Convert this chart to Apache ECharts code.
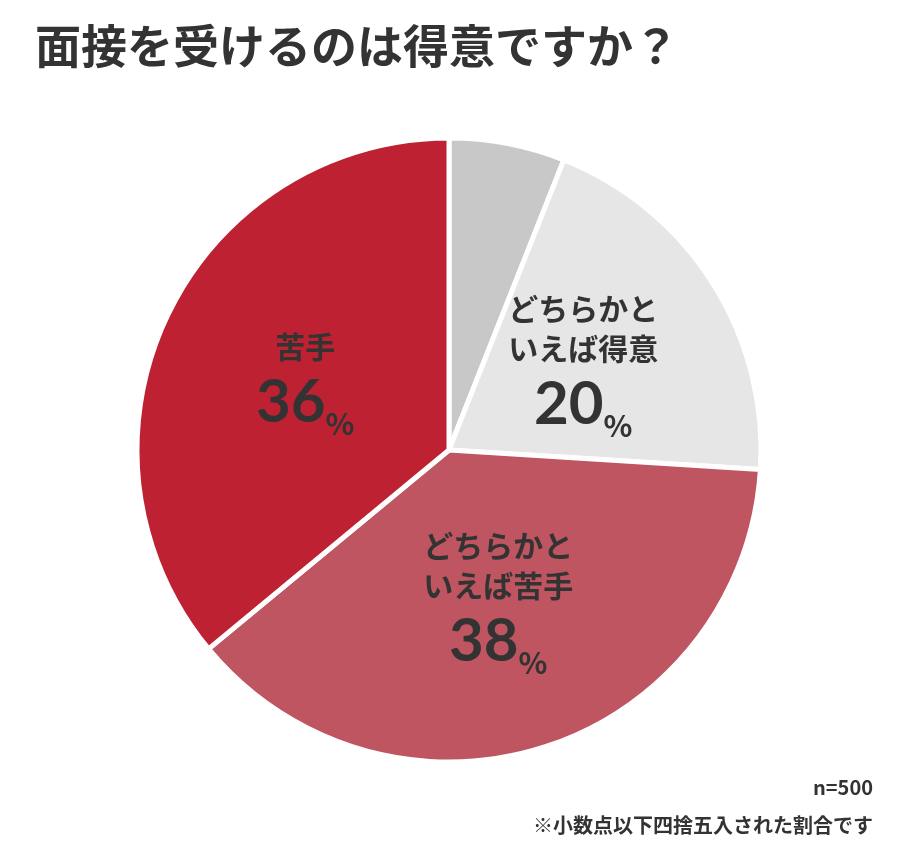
<!DOCTYPE html>
<html><head><meta charset="utf-8">
<script src="https://cdn.jsdelivr.net/npm/echarts@6/dist/echarts.min.js"></script>
<style>body{margin:0;background:#fff}#c{width:900px;height:850px}</style>
</head><body><div id="c"></div>
<script>
const categories = ['得意', 'どちらかと\nいえば得意', 'どちらかと\nいえば苦手', '苦手'];
const values = [6, 20, 38, 36];
const colors = ['#c8c8c8', '#e6e6e6', '#be5560', '#be2232'];
const labelNames = ['得意', 'どちらかと\nいえば得意', 'どちらかと\nいえば苦手', '苦手'];
const chart = echarts.init(document.getElementById('c'));
const ff = '"Noto Sans CJK JP", sans-serif';
chart.setOption({
  animation: false,
  title: [
    {text: '面接を受けるのは得意ですか？', left: 30, top: 18, textStyle: {fontFamily: ff, fontSize: 46, fontWeight: 'bold', color: '#333'}},
    {text: 'n=500', right: 22, top: 772, textStyle: {fontFamily: ff, fontSize: 20, fontWeight: 'bold', color: '#333'}},
    {text: '※小数点以下四捨五入された割合です', right: 22, top: 810, textStyle: {fontFamily: ff, fontSize: 20, fontWeight: 'bold', color: '#333'}}
  ],
  series: [{
    type: 'pie', center: [449, 450], radius: [0, 312], startAngle: 90, clockwise: true,
    itemStyle: {borderColor: '#fff', borderWidth: 5},
    label: {
      position: 'inside',
      formatter: p => '{n|' + labelNames[p.dataIndex] + '}\n{v|' + p.value + '}{p|%}',
      rich: {
        n: {fontFamily: ff, fontSize: 30, fontWeight: 'bold', color: '#333', lineHeight: 40, align: 'center'},
        v: {fontFamily: 'Lato, sans-serif', fontSize: 60, fontWeight: 'bold', color: '#333', lineHeight: 72},
        p: {fontFamily: ff, fontSize: 30, fontWeight: 'bold', color: '#333', lineHeight: 72, verticalAlign: 'bottom'}
      }
    },
    labelLine: {show: false},
    data: categories.map((c, i) => ({name: c, value: values[i], itemStyle: {color: colors[i]}}))
  }]
});
</script></body></html>
